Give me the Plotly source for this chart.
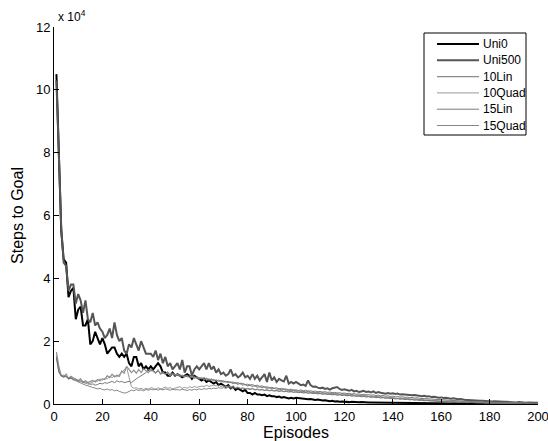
import plotly.graph_objects as go

episodes = list(range(1, 201))

uni0 = [
    10.5, 7.9, 5.5, 4.6, 4.5, 3.4, 3.6, 3.7, 2.7, 3.0,
    3.1, 2.5, 2.5, 2.7, 1.9, 2.0, 2.3, 2.1, 1.9, 2.1,
    1.9, 1.6, 1.7, 1.8, 1.8, 1.6, 1.5, 1.6, 1.5, 1.6,
    1.3, 1.2, 1.5, 1.5, 1.2, 1.3, 1.1, 1.2, 1.1, 1.2,
    1.1, 1.2, 1.3, 1.2, 1.0, 1.0, 0.9, 0.9, 1.0, 0.9,
    0.95, 0.9, 0.85, 0.9, 0.95, 0.9, 0.8, 0.9, 0.85, 0.8,
    0.75, 0.8, 0.7, 0.75, 0.7, 0.65, 0.7, 0.6, 0.65, 0.6,
    0.55, 0.6, 0.5, 0.55, 0.45, 0.5, 0.45, 0.4, 0.45, 0.35,
    0.35, 0.3, 0.35, 0.3, 0.3, 0.28, 0.3, 0.25, 0.28, 0.25,
    0.25, 0.22, 0.24, 0.2, 0.22, 0.2, 0.18, 0.2, 0.18, 0.2,
    0.19, 0.17, 0.18, 0.16, 0.15, 0.16, 0.14, 0.13, 0.14, 0.12,
    0.11, 0.12, 0.1, 0.09, 0.1, 0.08, 0.09, 0.07, 0.08, 0.07,
    0.07, 0.06, 0.07, 0.06, 0.06, 0.055, 0.06, 0.05, 0.055, 0.05,
    0.05, 0.048, 0.05, 0.045, 0.048, 0.045, 0.042, 0.045, 0.04, 0.042,
    0.04, 0.04, 0.035, 0.04, 0.035, 0.03, 0.035, 0.03, 0.03, 0.03,
    0.028, 0.03, 0.025, 0.028, 0.025, 0.025, 0.022, 0.025, 0.02, 0.022,
    0.02, 0.02, 0.02, 0.018, 0.02, 0.018, 0.017, 0.018, 0.016, 0.017,
    0.016, 0.015, 0.016, 0.015, 0.014, 0.015, 0.014, 0.013, 0.014, 0.013,
    0.013, 0.012, 0.013, 0.012, 0.012, 0.011, 0.012, 0.011, 0.011, 0.01,
    0.01, 0.01, 0.01, 0.01, 0.01, 0.01, 0.01, 0.01, 0.01, 0.01,
]

uni500 = [
    10.3, 8.0, 5.6, 4.5, 4.4, 3.6, 3.8, 3.8, 3.2, 3.5,
    3.3, 2.9, 3.3, 2.7, 2.6, 2.9, 2.5, 2.6, 2.4, 2.3,
    2.1, 2.2, 2.4, 2.1, 2.6, 2.2, 2.0, 2.1, 1.7, 1.6,
    1.9, 1.8, 2.1, 1.9, 1.7, 2.0, 1.8, 1.6, 1.6, 1.6,
    1.5, 1.7, 1.4, 1.6, 1.3, 1.5, 1.2, 1.3, 1.1, 1.2,
    1.3, 1.1, 1.4, 1.0, 1.2, 1.2, 0.9, 1.1, 1.2, 1.1,
    1.2, 1.3, 1.1, 1.3, 1.1, 1.2, 1.0, 1.1, 0.95, 1.0,
    0.9, 0.95, 1.1, 0.9, 0.95, 0.85, 0.9, 1.0, 0.85, 0.9,
    0.8, 0.95, 0.8, 0.9, 0.75, 0.85, 0.95, 0.7, 1.0, 0.75,
    0.85, 0.7, 0.8, 0.75, 0.72, 0.9, 0.65, 0.7, 0.65, 0.7,
    0.65, 0.6, 0.62, 0.58, 0.75, 0.6, 0.55, 0.56, 0.52, 0.5,
    0.52, 0.48, 0.5, 0.46, 0.5, 0.52, 0.54, 0.48, 0.45, 0.47,
    0.45, 0.42, 0.45, 0.4, 0.42, 0.38, 0.4, 0.42, 0.38, 0.4,
    0.37, 0.4, 0.35, 0.38, 0.36, 0.35, 0.33, 0.35, 0.33, 0.34,
    0.32, 0.33, 0.3, 0.31, 0.3, 0.29, 0.3, 0.28, 0.29, 0.27,
    0.26, 0.25, 0.26, 0.24, 0.25, 0.22, 0.23, 0.21, 0.2, 0.21,
    0.19, 0.2, 0.18, 0.17, 0.18, 0.16, 0.15, 0.16, 0.14, 0.13,
    0.13, 0.12, 0.12, 0.11, 0.11, 0.1, 0.1, 0.09, 0.1, 0.09,
    0.08, 0.09, 0.08, 0.07, 0.08, 0.07, 0.07, 0.06, 0.06, 0.06,
    0.05, 0.06, 0.05, 0.05, 0.04, 0.05, 0.04, 0.04, 0.04, 0.04,
]

lin10 = [
    1.65, 1.2, 0.9, 0.85, 0.95, 0.8, 0.88, 0.82, 0.78, 0.75,
    0.8, 0.7, 0.74, 0.68, 0.72, 0.75, 0.7, 0.78, 0.74, 0.8,
    0.78, 0.9, 0.84, 0.95, 0.86, 0.92, 0.88, 1.05, 0.98, 1.2,
    1.1, 1.0, 1.08, 0.98, 1.1, 1.0, 1.12, 1.05, 1.0, 1.1,
    1.05, 0.98, 1.08, 0.95, 1.0, 0.94, 1.02, 0.9, 0.96, 0.92,
    0.95, 0.88, 0.92, 0.86, 0.9, 0.84, 0.88, 0.82, 0.86, 0.8,
    0.84, 0.78, 0.82, 0.76, 0.8, 0.74, 0.77, 0.72, 0.75, 0.7,
    0.72, 0.68, 0.7, 0.65, 0.68, 0.63, 0.66, 0.6, 0.62, 0.58,
    0.6, 0.56, 0.58, 0.54, 0.55, 0.52, 0.54, 0.5, 0.52, 0.48,
    0.5, 0.47, 0.48, 0.45, 0.47, 0.44, 0.45, 0.42, 0.44, 0.41,
    0.42, 0.4, 0.41, 0.38, 0.4, 0.37, 0.38, 0.36, 0.37, 0.35,
    0.36, 0.34, 0.35, 0.33, 0.34, 0.32, 0.33, 0.31, 0.32, 0.3,
    0.3, 0.29, 0.3, 0.28, 0.28, 0.27, 0.27, 0.26, 0.26, 0.25,
    0.25, 0.24, 0.24, 0.23, 0.23, 0.22, 0.22, 0.21, 0.2, 0.2,
    0.19, 0.19, 0.18, 0.18, 0.17, 0.17, 0.16, 0.16, 0.15, 0.15,
    0.14, 0.14, 0.13, 0.13, 0.12, 0.12, 0.11, 0.11, 0.1, 0.1,
    0.09, 0.09, 0.09, 0.08, 0.08, 0.08, 0.07, 0.07, 0.07, 0.06,
    0.06, 0.06, 0.06, 0.05, 0.05, 0.05, 0.05, 0.04, 0.04, 0.04,
    0.04, 0.04, 0.03, 0.03, 0.03, 0.03, 0.03, 0.03, 0.02, 0.02,
    0.02, 0.02, 0.02, 0.02, 0.02, 0.02, 0.01, 0.01, 0.01, 0.01,
]

quad10 = [
    1.55, 1.1, 0.92, 0.88, 0.9, 0.85, 0.8, 0.84, 0.76, 0.72,
    0.75, 0.68, 0.7, 0.62, 0.66, 0.7, 0.74, 0.72, 0.8, 0.76,
    0.82, 0.8, 0.88, 0.84, 0.9, 0.86, 0.95, 1.0, 1.1, 1.18,
    0.85, 0.55, 0.5, 0.52, 0.48, 0.5, 0.46, 0.5, 0.47, 0.52,
    0.5, 0.46, 0.52, 0.48, 0.5, 0.54, 0.5, 0.52, 0.48, 0.5,
    0.52, 0.55, 0.5, 0.53, 0.5, 0.55, 0.52, 0.56, 0.53, 0.55,
    0.57, 0.55, 0.6, 0.56, 0.58, 0.6, 0.57, 0.6, 0.56, 0.58,
    0.55, 0.57, 0.53, 0.55, 0.52, 0.54, 0.5, 0.52, 0.49, 0.5,
    0.48, 0.5, 0.46, 0.48, 0.45, 0.47, 0.44, 0.46, 0.43, 0.45,
    0.42, 0.44, 0.41, 0.43, 0.4, 0.42, 0.39, 0.4, 0.38, 0.39,
    0.37, 0.38, 0.36, 0.37, 0.35, 0.36, 0.34, 0.35, 0.33, 0.34,
    0.32, 0.33, 0.31, 0.32, 0.3, 0.31, 0.29, 0.3, 0.28, 0.29,
    0.27, 0.28, 0.26, 0.27, 0.25, 0.26, 0.24, 0.25, 0.23, 0.24,
    0.22, 0.23, 0.21, 0.22, 0.2, 0.21, 0.19, 0.2, 0.18, 0.19,
    0.17, 0.18, 0.16, 0.17, 0.15, 0.16, 0.14, 0.15, 0.13, 0.14,
    0.12, 0.13, 0.11, 0.12, 0.1, 0.11, 0.1, 0.1, 0.09, 0.09,
    0.08, 0.09, 0.08, 0.08, 0.07, 0.07, 0.06, 0.07, 0.06, 0.06,
    0.05, 0.06, 0.05, 0.05, 0.04, 0.05, 0.04, 0.04, 0.04, 0.03,
    0.03, 0.04, 0.03, 0.03, 0.03, 0.03, 0.02, 0.03, 0.02, 0.02,
    0.02, 0.02, 0.02, 0.02, 0.01, 0.02, 0.01, 0.01, 0.01, 0.01,
]

lin15 = [
    1.5, 1.05, 0.88, 0.92, 0.86, 0.82, 0.85, 0.78, 0.8, 0.74,
    0.72, 0.7, 0.66, 0.68, 0.62, 0.64, 0.6, 0.62, 0.66, 0.64,
    0.68, 0.66, 0.7, 0.72, 0.68, 0.74, 0.7, 0.72, 0.68, 0.7,
    0.72, 0.68, 0.75, 0.8, 0.85, 0.9, 0.95, 1.0, 1.1, 1.05,
    1.08, 1.0, 1.05, 0.98, 1.02, 0.95, 1.0, 0.94, 0.98, 0.92,
    0.9, 0.94, 0.88, 0.92, 0.86, 0.9, 0.84, 0.88, 0.82, 0.85,
    0.8, 0.84, 0.78, 0.8, 0.76, 0.78, 0.74, 0.76, 0.72, 0.74,
    0.7, 0.72, 0.68, 0.7, 0.66, 0.68, 0.64, 0.66, 0.62, 0.63,
    0.6, 0.62, 0.58, 0.6, 0.56, 0.58, 0.54, 0.55, 0.52, 0.53,
    0.5, 0.52, 0.48, 0.5, 0.47, 0.48, 0.45, 0.47, 0.44, 0.45,
    0.43, 0.45, 0.42, 0.44, 0.41, 0.42, 0.4, 0.41, 0.39, 0.4,
    0.38, 0.39, 0.37, 0.38, 0.36, 0.37, 0.35, 0.36, 0.34, 0.35,
    0.33, 0.34, 0.32, 0.33, 0.31, 0.32, 0.3, 0.31, 0.29, 0.3,
    0.28, 0.29, 0.27, 0.28, 0.26, 0.27, 0.25, 0.26, 0.24, 0.25,
    0.23, 0.24, 0.22, 0.23, 0.21, 0.22, 0.2, 0.21, 0.19, 0.2,
    0.18, 0.18, 0.17, 0.17, 0.16, 0.16, 0.15, 0.15, 0.14, 0.14,
    0.13, 0.13, 0.12, 0.12, 0.11, 0.11, 0.1, 0.1, 0.09, 0.09,
    0.08, 0.09, 0.08, 0.08, 0.07, 0.07, 0.06, 0.07, 0.06, 0.06,
    0.05, 0.06, 0.05, 0.05, 0.04, 0.05, 0.04, 0.04, 0.04, 0.03,
    0.03, 0.03, 0.03, 0.03, 0.02, 0.03, 0.02, 0.02, 0.02, 0.02,
]

quad15 = [
    1.45, 1.0, 0.9, 0.86, 0.88, 0.8, 0.82, 0.76, 0.74, 0.7,
    0.68, 0.64, 0.6, 0.58, 0.55, 0.52, 0.5, 0.48, 0.5, 0.46,
    0.45, 0.48, 0.44, 0.46, 0.42, 0.44, 0.4, 0.38, 0.35, 0.36,
    0.4, 0.44, 0.42, 0.46, 0.43, 0.45, 0.42, 0.46, 0.44, 0.47,
    0.45, 0.48, 0.44, 0.47, 0.45, 0.48, 0.46, 0.44, 0.47, 0.45,
    0.46, 0.44, 0.47, 0.45, 0.43, 0.46, 0.44, 0.47, 0.45, 0.48,
    0.46, 0.49, 0.47, 0.5, 0.48, 0.51, 0.49, 0.52, 0.5, 0.52,
    0.5, 0.53, 0.5, 0.52, 0.49, 0.51, 0.48, 0.5, 0.47, 0.48,
    0.46, 0.48, 0.45, 0.46, 0.44, 0.45, 0.43, 0.44, 0.42, 0.43,
    0.41, 0.42, 0.4, 0.41, 0.39, 0.4, 0.38, 0.39, 0.37, 0.38,
    0.36, 0.37, 0.35, 0.36, 0.34, 0.35, 0.33, 0.34, 0.32, 0.33,
    0.31, 0.32, 0.3, 0.31, 0.29, 0.3, 0.28, 0.29, 0.27, 0.28,
    0.26, 0.27, 0.25, 0.26, 0.24, 0.25, 0.23, 0.24, 0.22, 0.23,
    0.21, 0.22, 0.2, 0.21, 0.19, 0.2, 0.18, 0.19, 0.17, 0.18,
    0.16, 0.17, 0.15, 0.16, 0.14, 0.15, 0.13, 0.14, 0.12, 0.13,
    0.11, 0.12, 0.1, 0.11, 0.1, 0.1, 0.09, 0.09, 0.08, 0.08,
    0.07, 0.08, 0.07, 0.07, 0.06, 0.06, 0.05, 0.06, 0.05, 0.05,
    0.04, 0.05, 0.04, 0.04, 0.04, 0.03, 0.03, 0.04, 0.03, 0.03,
    0.03, 0.03, 0.02, 0.03, 0.02, 0.02, 0.02, 0.02, 0.02, 0.02,
    0.01, 0.02, 0.01, 0.01, 0.01, 0.01, 0.01, 0.01, 0.01, 0.01,
]

x_ticks = [0, 20, 40, 60, 80, 100, 120, 140, 160, 180, 200]
y_ticks = [0, 2, 4, 6, 8, 10, 12]

FONT = "Liberation Sans, Arial, Helvetica, sans-serif"

series = [
    ("Uni0", uni0, "#000000", 2.0),
    ("Uni500", uni500, "#555555", 2.0),
    ("10Lin", lin10, "#8c8c8c", 1.2),
    ("10Quad", quad10, "#9a9a9a", 1.0),
    ("15Lin", lin15, "#7a7a7a", 1.0),
    ("15Quad", quad15, "#6a6a6a", 0.8),
]

fig = go.Figure()
for name, vals, color, w in series:
    fig.add_trace(go.Scatter(x=episodes, y=vals, mode="lines", name=name,
                             line=dict(color=color, width=w), showlegend=False))

axis_common = dict(
    showgrid=False, zeroline=False, showline=True, linecolor="black", linewidth=1,
    ticks="inside", ticklen=5, tickcolor="black", tickwidth=1,
    tickfont=dict(family=FONT, size=13, color="black"),
    mirror=False, automargin=False,
)

fig.update_layout(
    width=548, height=441,
    paper_bgcolor="white", plot_bgcolor="white",
    margin=dict(l=54, r=10, t=27, b=37),
    font=dict(family=FONT, color="black"),
    xaxis=dict(range=[0, 200], tickvals=x_ticks, ticklabeloverflow="allow",
               title=dict(text="Episodes", font=dict(family=FONT, size=16), standoff=0),
               **axis_common),
    yaxis=dict(range=[0, 12], tickvals=y_ticks,
               title=dict(text="Steps to Goal", font=dict(family=FONT, size=16), standoff=8),
               **axis_common),
    showlegend=False,
)

# Legend box (drawn in paper coordinates, MATLAB style)
plot_w, plot_h = 484.0, 377.0
def px_x(p):
    return (p - 54) / plot_w
def px_y(p):
    return (404 - p) / plot_h

fig.add_shape(type="rect", xref="paper", yref="paper",
              x0=px_x(424), x1=px_x(526), y0=px_y(135), y1=px_y(33),
              line=dict(color="black", width=1), fillcolor="white", layer="above")
row0, step = 44.0, 16.3
for i, (name, vals, color, w) in enumerate(series):
    yy = px_y(row0 + i * step)
    fig.add_shape(type="line", xref="paper", yref="paper",
                  x0=px_x(437), x1=px_x(479), y0=yy, y1=yy,
                  line=dict(color=color, width=w), layer="above")
    fig.add_annotation(xref="paper", yref="paper", x=px_x(481), y=yy,
                       xanchor="left", yanchor="middle", text=name, showarrow=False,
                       font=dict(family=FONT, size=12, color="black"))

fig.add_annotation(xref="paper", yref="paper", x=0.0, y=1.0, xanchor="left", yanchor="bottom",
                   text="x 10<sup>4</sup>", showarrow=False, xshift=2, yshift=1,
                   font=dict(family=FONT, size=12, color="black"))

fig.write_html("out.html", config={"displayModeBar": False},
               post_script="document.body.style.margin='0';document.body.style.padding='0';")
